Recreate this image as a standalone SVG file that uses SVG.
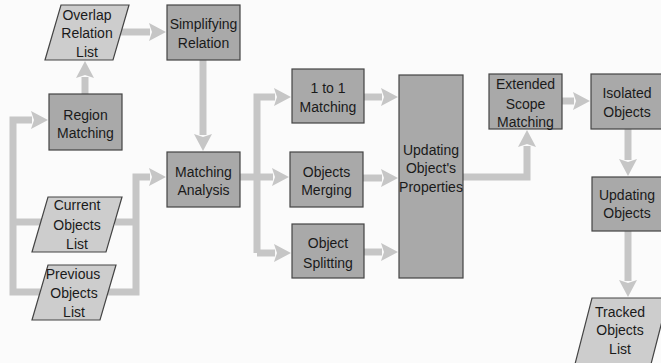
<svg xmlns="http://www.w3.org/2000/svg" width="661" height="363" viewBox="0 0 661 363">
<style>
  .box{fill:#a9a9a9;stroke:#444;stroke-width:1.2}
  .io{fill:#cdcdcd;stroke:#444;stroke-width:1.2}
  .t{font-family:"Liberation Sans",Arial,sans-serif;font-size:14px;fill:#1a1a1a;text-anchor:middle}
  .c{fill:none;stroke:#c6c6c6;stroke-width:7;stroke-linejoin:miter}
</style>
<defs>
  <marker id="ah" markerUnits="userSpaceOnUse" viewBox="0 0 17 18" refX="1" refY="9" markerWidth="17" markerHeight="18" orient="auto">
    <path d="M0,0 L17,9 L0,18 L3,9 z" fill="#c6c6c6"/>
  </marker>
</defs>
<rect width="661" height="363" fill="#fbfbfb"/>
<g id="connectors">
  <path class="c" d="M85,94 V77" marker-end="url(#ah)"/>
  <path class="c" d="M120,32 H150" marker-end="url(#ah)"/>
  <path class="c" d="M203,60 V135" marker-end="url(#ah)"/>
  <path class="c" d="M41,222 H13"/>
  <path class="c" d="M40,292 H13 V120 H32" marker-end="url(#ah)"/>
  <path class="c" d="M115,222 H136"/>
  <path class="c" d="M108,292 H136 V177 H150" marker-end="url(#ah)"/>
  <path class="c" d="M240,177 H257"/>
  <path class="c" d="M257,253 V97 H275" marker-end="url(#ah)"/>
  <path class="c" d="M257,177 H273" marker-end="url(#ah)"/>
  <path class="c" d="M257,253 H275" marker-end="url(#ah)"/>
  <path class="c" d="M364,97 H382" marker-end="url(#ah)"/>
  <path class="c" d="M363,178 H382" marker-end="url(#ah)"/>
  <path class="c" d="M364,252 H382" marker-end="url(#ah)"/>
  <path class="c" d="M463,177 H527 V146" marker-end="url(#ah)"/>
  <path class="c" d="M562,101 H574" marker-end="url(#ah)"/>
  <path class="c" d="M628,129 V160" marker-end="url(#ah)"/>
  <path class="c" d="M628,231 V281" marker-end="url(#ah)"/>
</g>
<g id="overlap-relation-list">
  <polygon class="io" points="61,5 129,5 113,60 45,60"/>
  <text class="t" x="87" y="20">Overlap</text>
  <text class="t" x="87" y="38">Relation</text>
  <text class="t" x="87" y="57">List</text>
</g>
<g id="simplifying-relation">
  <rect class="box" x="167" y="5" width="73" height="55"/>
  <text class="t" x="203.5" y="29">Simplifying</text>
  <text class="t" x="203.5" y="48">Relation</text>
</g>
<g id="region-matching">
  <rect class="box" x="49" y="94" width="73" height="56"/>
  <text class="t" x="85.5" y="120">Region</text>
  <text class="t" x="85.5" y="138">Matching</text>
</g>
<g id="matching-analysis">
  <rect class="box" x="167" y="152" width="73" height="55"/>
  <text class="t" x="203.5" y="177">Matching</text>
  <text class="t" x="203.5" y="195">Analysis</text>
</g>
<g id="current-objects-list">
  <polygon class="io" points="48,197 122,197 106,252 32,252"/>
  <text class="t" x="77" y="210">Current</text>
  <text class="t" x="77" y="230">Objects</text>
  <text class="t" x="77" y="249">List</text>
</g>
<g id="previous-objects-list">
  <polygon class="io" points="48,265 116,265 100,320 32,320"/>
  <text class="t" x="73" y="279">Previous</text>
  <text class="t" x="74" y="298">Objects</text>
  <text class="t" x="74" y="317">List</text>
</g>
<g id="one-to-one-matching">
  <rect class="box" x="292" y="69" width="72" height="54"/>
  <text class="t" x="328" y="93">1 to 1</text>
  <text class="t" x="328" y="112">Matching</text>
</g>
<g id="objects-merging">
  <rect class="box" x="290" y="152" width="73" height="55"/>
  <text class="t" x="326.5" y="177">Objects</text>
  <text class="t" x="326.5" y="195">Merging</text>
</g>
<g id="object-splitting">
  <rect class="box" x="292" y="224" width="72" height="54"/>
  <text class="t" x="328" y="248">Object</text>
  <text class="t" x="328" y="268">Splitting</text>
</g>
<g id="updating-properties">
  <rect class="box" x="399" y="75" width="64" height="203"/>
  <text class="t" x="431" y="155">Updating</text>
  <text class="t" x="431" y="173">Object's</text>
  <text class="t" x="431" y="192">Properties</text>
</g>
<g id="extended-scope-matching">
  <rect class="box" x="489" y="74" width="73" height="55"/>
  <text class="t" x="525.5" y="89">Extended</text>
  <text class="t" x="525.5" y="109">Scope</text>
  <text class="t" x="525.5" y="127">Matching</text>
</g>
<g id="isolated-objects">
  <rect class="box" x="591" y="74" width="73" height="55"/>
  <text class="t" x="627" y="98">Isolated</text>
  <text class="t" x="627" y="117">Objects</text>
</g>
<g id="updating-objects">
  <rect class="box" x="592" y="177" width="72" height="54"/>
  <text class="t" x="627" y="200">Updating</text>
  <text class="t" x="627" y="218">Objects</text>
</g>
<g id="tracked-objects-list">
  <polygon class="io" points="592,298 668,298 650,368 574,368"/>
  <text class="t" x="620" y="317">Tracked</text>
  <text class="t" x="620" y="335">Objects</text>
  <text class="t" x="620" y="354">List</text>
</g>
</svg>
